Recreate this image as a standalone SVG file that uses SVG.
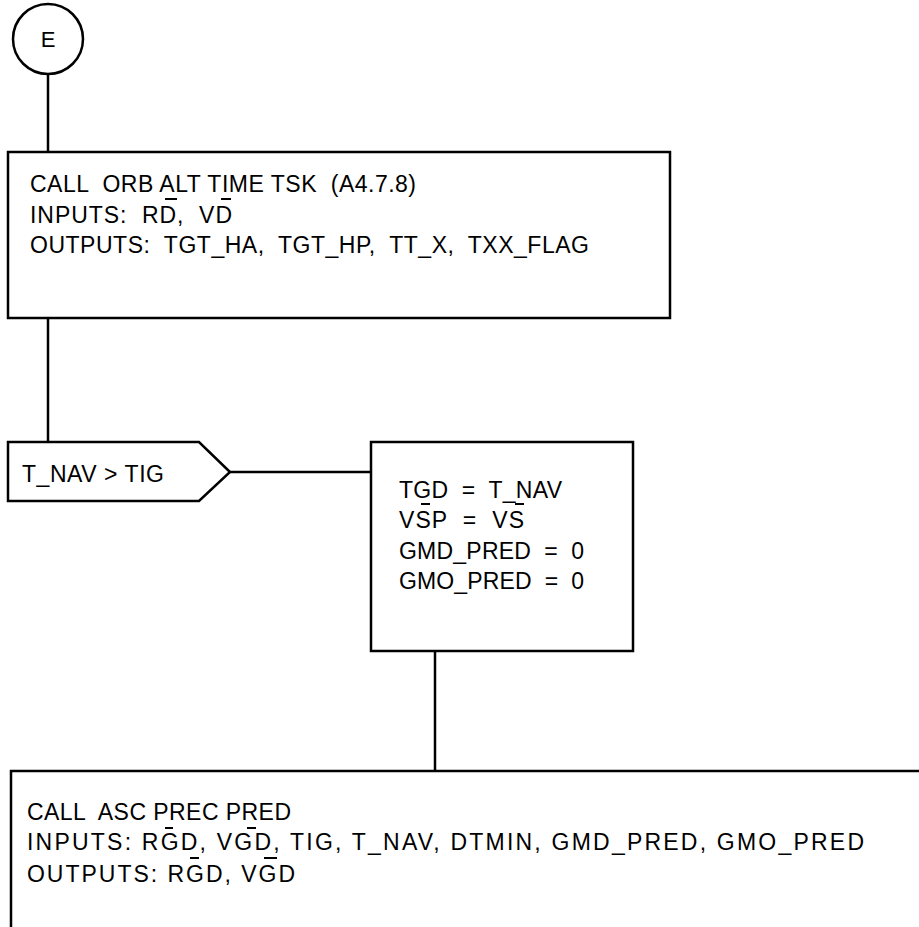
<svg xmlns="http://www.w3.org/2000/svg" width="919" height="927" viewBox="0 0 919 927">
<style>
.s{fill:none;stroke:#000;stroke-width:2.5}
.b{fill:#fff;stroke:#000;stroke-width:2.5}
.t{font-family:"Liberation Sans",Arial,sans-serif;font-size:23px;fill:#000;white-space:pre}
.bar{stroke:#000;stroke-width:2}
</style>
<rect width="919" height="927" fill="#fff"/>
<g id="connectors">
<line class="s" x1="48" y1="75" x2="48" y2="152"/>
<line class="s" x1="48" y1="318" x2="48" y2="442"/>
<line class="s" x1="230" y1="472" x2="371" y2="472"/>
<line class="s" x1="435" y1="651" x2="435" y2="771"/>
</g>
<g id="start">
<circle class="b" cx="48" cy="39" r="35"/>
<text class="t" x="48" y="47" text-anchor="middle" style="font-size:22px">E</text>
</g>
<g id="box1">
<rect class="b" x="8" y="152" width="662" height="166"/>
<text class="t" x="30" y="192" textLength="386" lengthAdjust="spacing">CALL  ORB ALT TIME TSK  (A4.7.8)</text>
<text class="t" x="30" y="223" textLength="202" lengthAdjust="spacing">INPUTS:  RD,  VD</text>
<text class="t" x="30" y="253" textLength="559" lengthAdjust="spacing">OUTPUTS:  TGT_HA,  TGT_HP,  TT_X,  TXX_FLAG</text>
<line class="bar" x1="165" y1="199" x2="177" y2="199"/>
<line class="bar" x1="221" y1="199" x2="231" y2="199"/>
</g>
<g id="decision">
<polygon class="b" points="8,442 199,442 230,472 199,501 8,501"/>
<text class="t" x="22" y="482" textLength="142" lengthAdjust="spacing">T_NAV &gt; TIG</text>
</g>
<g id="box2">
<rect class="b" x="371" y="442" width="262" height="209"/>
<text class="t" x="399" y="498" textLength="163" lengthAdjust="spacing">TGD  =  T_NAV</text>
<text class="t" x="399" y="528" textLength="125" lengthAdjust="spacing">VSP  =  VS</text>
<text class="t" x="399" y="559" textLength="185" lengthAdjust="spacing">GMD_PRED  =  0</text>
<text class="t" x="399" y="589" textLength="185" lengthAdjust="spacing">GMO_PRED  =  0</text>
<line class="bar" x1="421" y1="504" x2="430" y2="504"/>
<line class="bar" x1="515" y1="504" x2="524" y2="504"/>
</g>
<g id="box3">
<rect class="b" x="11" y="771" width="930" height="200"/>
<text class="t" x="27" y="820" textLength="264" lengthAdjust="spacing">CALL  ASC PREC PRED</text>
<text class="t" x="27" y="850" textLength="837" lengthAdjust="spacing">INPUTS: RGD, VGD, TIG, T_NAV, DTMIN, GMD_PRED, GMO_PRED</text>
<text class="t" x="27" y="882" textLength="268" lengthAdjust="spacing">OUTPUTS: RGD, VGD</text>
<line class="bar" x1="165" y1="828" x2="173" y2="828"/>
<line class="bar" x1="247" y1="828" x2="256" y2="828"/>
<line class="bar" x1="190" y1="858" x2="199" y2="858"/>
<line class="bar" x1="264" y1="858" x2="277" y2="858" stroke-width="3"/>
</g>
</svg>
